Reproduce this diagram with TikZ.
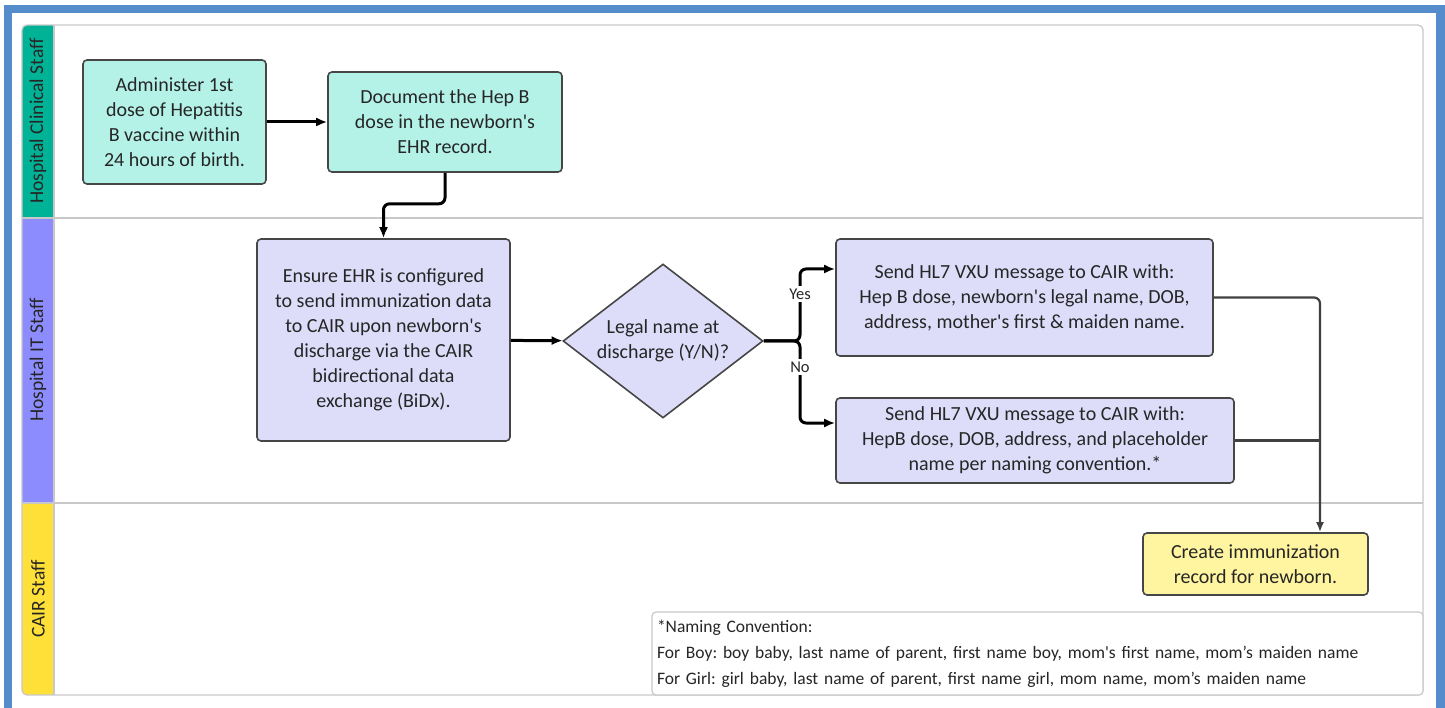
\documentclass[tikz,border=0pt]{standalone}
\usepackage{fontspec}
\setmainfont{Carlito}[Ligatures=TeXOff]
\usepackage{xcolor}
\usepackage{tikz}
\usetikzlibrary{arrows.meta,positioning,shapes.geometric}
\frenchspacing
\definecolor{frameblue}{RGB}{84,140,204}
\definecolor{tealhead}{RGB}{0,178,150}
\definecolor{tealfill}{RGB}{180,242,232}
\definecolor{purphead}{RGB}{140,140,255}
\definecolor{purpfill}{RGB}{221,221,250}
\definecolor{yelhead}{RGB}{255,224,56}
\definecolor{yelfill}{RGB}{255,244,160}
\definecolor{lanegray}{RGB}{200,200,200}
\definecolor{edgegray}{RGB}{70,70,70}
\definecolor{inkgray}{RGB}{38,38,38}

\begin{document}
\begin{tikzpicture}[x=1pt,y=-1pt,>={Latex[length=11pt,width=9pt]},
box/.style={draw=edgegray,line width=1.6pt,rounded corners=4pt,align=center,inner sep=0pt,text=inkgray,font=\fontsize{20}{25}\selectfont},
clin/.style={box,fill=tealfill},
itbox/.style={box,fill=purpfill},
cairbox/.style={box,fill=yelfill},
decide/.style={diamond,draw=edgegray,line width=1.6pt,fill=purpfill,align=center,inner sep=0pt,text=inkgray,font=\fontsize{20}{25}\selectfont,minimum width=200pt,minimum height=154pt,shape aspect=1.3},
flow/.style={->,line width=3pt,black,rounded corners=6pt},
feed/.style={line width=2.2pt,draw=black!75,rounded corners=6pt,>={Latex[length=10pt,width=8pt]}},
lanename/.style={rotate=90,text=black!85,font=\fontsize{19.5}{22}\selectfont},
tag/.style={fill=white,inner xsep=1pt,inner ysep=3pt,text=inkgray,font=\fontsize{16.5}{18}\selectfont}]
\useasboundingbox (0,0) rectangle (1445,708);
\draw[frameblue,line width=8.5pt] (8,730) -- (8,9) -- (1440.5,9) -- (1440.5,730);
\begin{scope}
\clip[rounded corners=5pt] (22,25) rectangle (1423,695);
\fill[tealhead] (22,25) rectangle (54,218);
\fill[purphead] (22,218) rectangle (54,503);
\fill[yelhead] (22,503) rectangle (54,695);
\end{scope}
\draw[lanegray,line width=1.3pt] (22,218) -- (1423,218) (22,503) -- (1423,503) (54,25) -- (54,695);
\draw[lanegray,line width=1.3pt,rounded corners=5pt] (22,25) rectangle (1423,695);
\node[lanename] (clinlab) at (38,121) {Hospital Clinical Staff};
\node[lanename] (itlab) at (38,360) {Hospital IT Staff};
\node[lanename] (cairlab) at (38,599) {CAIR Staff};

\node[clin,minimum width=183pt,minimum height=124pt] (give) at (174.5,122) {Administer 1st\\dose of Hepatitis\\B vaccine within\\24 hours of birth.};
\node[clin,minimum width=234pt,minimum height=100pt] (record) at (445,122) {Document the Hep B\\dose in the newborn's\\EHR record.};
\node[itbox,minimum width=253pt,minimum height=202pt] (ehr) at (383.5,340) {Ensure EHR is configured\\to send immunization data\\to CAIR upon newborn's\\discharge via the CAIR\\bidirectional data\\exchange (BiDx).};
\node[decide] (legal) at (663,341) {Legal name at\\discharge (Y/N)?};
\node[itbox,minimum width=377pt,minimum height=117pt] (legalmsg) at (1024.5,297.5) {Send HL7 VXU message to CAIR with:\\Hep B dose, newborn's legal name, DOB,\\address, mother's first \& maiden name.};
\node[itbox,minimum width=398pt,minimum height=85pt] (tempmsg) at (1035,440.5) {Send HL7 VXU message to CAIR with:\\HepB dose, DOB, address, and placeholder\\name per naming convention.*};
\node[cairbox,minimum width=225pt,minimum height=62pt] (create) at (1255.5,564) {Create immunization\\record for newborn.};
\node[draw=lanegray,line width=1.2pt,rounded corners=4pt,fill=white,text=inkgray,align=left,text width=761pt,inner sep=5pt,minimum height=83pt,font=\fontsize{17.5}{26}\selectfont] (naming) at (1037.5,653.5) {*Naming Convention:\\For Boy: boy baby, last name of parent, first name boy, mom's first name, mom’s maiden name\\For Girl: girl baby, last name of parent, first name girl, mom name, mom’s maiden name};

\coordinate (fork) at (800,341);
\coordinate (drop) at ([xshift=64.5pt]create.north);
\draw[flow] (give) -- (record);
\draw[flow] (record.south) -- ++(0,31) -| (ehr.north);
\draw[flow] (ehr) -- (legal);
\draw[flow] (legal.east) -- (fork) |- ([yshift=28.5pt]legalmsg.west);
\draw[flow] (legal.east) -- (fork) |- ([yshift=17.5pt]tempmsg.west);
\node[tag] (yes) at (800,294) {Yes};
\node[tag] (no) at (800,367) {No};
\draw[feed,->] (legalmsg.east) -| (drop);
\draw[feed] (tempmsg.east) -- (tempmsg.east -| drop);
\end{tikzpicture}
\end{document}
